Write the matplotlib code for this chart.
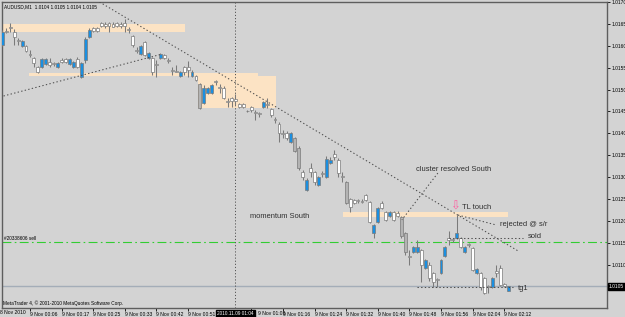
import matplotlib
matplotlib.use('Agg')
import matplotlib.pyplot as plt
import numpy as np

# ---------------- data (AUDUSD, M1) ----------------
opens = [1.01602,1.01634,1.01643,1.01631,1.01613,1.01599,1.01599,1.01581,1.01572,1.01551,
         1.01551,1.01558,1.01563,1.01561,1.01551,1.01567,1.01570,1.01558,1.01551,1.01570,
         1.01529,1.01567,1.01620,1.01641,1.01641,1.01652,1.01650,1.01652,1.01650,1.01652,
         1.01650,1.01652,1.01638,1.01622,1.01590,1.01581,1.01609,1.01572,1.01572,1.01558,
         1.01572,1.01579,1.01567,1.01545,1.01542,1.01531,1.01551,1.01551,1.01531,1.01531,
         1.01513,1.01469,1.01492,1.01492,1.01519,1.01506,1.01503,1.01474,1.01481,1.01478,
         1.01467,1.01467,1.01451,1.01460,1.01449,1.01446,1.01460,1.01467,1.01455,1.01433,
         1.01421,1.01401,1.01401,1.01380,1.01389,1.01366,1.01311,1.01270,1.01321,1.01311,
         1.01282,1.01309,1.01300,1.01332,1.01353,1.01339,1.01302,1.01289,1.01250,1.01247,
         1.01247,1.01246,1.01259,1.01243,1.01172,1.01197,1.01241,1.01220,1.01211,1.01220,
         1.01218,1.01209,1.01172,1.01119,1.01129,1.01129,1.01133,1.01092,1.01099,1.01081,
         1.01067,1.01081,1.01119,1.01161,1.01158,1.01161,1.01161,1.01129,1.01147,1.01138,
         1.01081,1.01081,1.01069,1.01051,1.01049,1.01085,1.01092,1.01055,1.01040]
highs = [1.01636,1.01641,1.01652,1.01638,1.01618,1.01613,1.01602,1.01590,1.01574,1.01554,
         1.01572,1.01572,1.01572,1.01563,1.01563,1.01572,1.01572,1.01572,1.01565,1.01574,
         1.01563,1.01620,1.01641,1.01643,1.01643,1.01654,1.01654,1.01654,1.01654,1.01654,
         1.01654,1.01661,1.01643,1.01625,1.01597,1.01602,1.01611,1.01586,1.01574,1.01567,
         1.01583,1.01581,1.01572,1.01551,1.01556,1.01542,1.01554,1.01565,1.01545,1.01533,
         1.01515,1.01510,1.01506,1.01513,1.01522,1.01513,1.01508,1.01481,1.01483,1.01490,
         1.01469,1.01469,1.01453,1.01462,1.01453,1.01449,1.01474,1.01481,1.01458,1.01437,
         1.01426,1.01407,1.01405,1.01403,1.01391,1.01371,1.01316,1.01298,1.01332,1.01314,
         1.01302,1.01314,1.01348,1.01346,1.01362,1.01343,1.01311,1.01291,1.01252,1.01250,
         1.01250,1.01250,1.01261,1.01245,1.01193,1.01231,1.01245,1.01222,1.01222,1.01222,
         1.01222,1.01211,1.01174,1.01133,1.01142,1.01156,1.01135,1.01113,1.01106,1.01083,
         1.01069,1.01113,1.01142,1.01177,1.01161,1.01213,1.01163,1.01142,1.01149,1.01140,
         1.01092,1.01083,1.01071,1.01053,1.01071,1.01099,1.01099,1.01058,1.01050]
lows = [1.01599,1.01629,1.01631,1.01602,1.01602,1.01597,1.01586,1.01574,1.01551,1.01538,
        1.01549,1.01556,1.01551,1.01554,1.01549,1.01561,1.01561,1.01556,1.01549,1.01549,
        1.01526,1.01561,1.01618,1.01631,1.01631,1.01643,1.01641,1.01631,1.01643,1.01643,
        1.01641,1.01631,1.01629,1.01597,1.01583,1.01579,1.01577,1.01570,1.01533,1.01529,
        1.01570,1.01570,1.01561,1.01533,1.01540,1.01529,1.01533,1.01529,1.01529,1.01519,
        1.01455,1.01467,1.01490,1.01490,1.01510,1.01492,1.01478,1.01460,1.01460,1.01465,
        1.01458,1.01458,1.01449,1.01449,1.01430,1.01437,1.01458,1.01458,1.01437,1.01423,
        1.01380,1.01389,1.01385,1.01378,1.01357,1.01316,1.01293,1.01268,1.01300,1.01282,
        1.01279,1.01300,1.01298,1.01330,1.01339,1.01300,1.01289,1.01238,1.01220,1.01238,
        1.01241,1.01241,1.01245,1.01195,1.01161,1.01195,1.01227,1.01199,1.01209,1.01199,
        1.01209,1.01161,1.01122,1.01099,1.01126,1.01126,1.01060,1.01090,1.01062,1.01049,
        1.01049,1.01078,1.01117,1.01145,1.01151,1.01158,1.01138,1.01126,1.01140,1.01085,
        1.01078,1.01042,1.01033,1.01035,1.01046,1.01071,1.01051,1.01049,1.01040]
closes = [1.01631,1.01631,1.01641,1.01620,1.01611,1.01611,1.01588,1.01579,1.01561,1.01540,
          1.01570,1.01570,1.01556,1.01558,1.01561,1.01563,1.01563,1.01570,1.01563,1.01551,
          1.01561,1.01615,1.01636,1.01634,1.01634,1.01645,1.01645,1.01645,1.01643,1.01645,
          1.01645,1.01645,1.01636,1.01602,1.01588,1.01599,1.01579,1.01583,1.01540,1.01556,
          1.01581,1.01572,1.01565,1.01542,1.01539,1.01540,1.01540,1.01545,1.01540,1.01522,
          1.01458,1.01503,1.01503,1.01510,1.01517,1.01503,1.01481,1.01471,1.01474,1.01474,
          1.01460,1.01460,1.01450,1.01453,1.01446,1.01444,1.01471,1.01465,1.01442,1.01430,
          1.01401,1.01398,1.01389,1.01401,1.01359,1.01321,1.01300,1.01293,1.01311,1.01289,
          1.01300,1.01307,1.01341,1.01339,1.01346,1.01309,1.01300,1.01241,1.01231,1.01241,
          1.01245,1.01244,1.01247,1.01197,1.01190,1.01229,1.01229,1.01202,1.01220,1.01202,
          1.01211,1.01165,1.01129,1.01117,1.01140,1.01140,1.01099,1.01110,1.01069,1.01060,
          1.01065,1.01110,1.01140,1.01156,1.01156,1.01172,1.01140,1.01140,1.01145,1.01087,
          1.01090,1.01049,1.01035,1.01049,1.01069,1.01081,1.01053,1.01051,1.01050]
gray_bars = [50, 74, 75, 87, 101, 102]

price_ticks = [1.0110, 1.0115, 1.0120, 1.0125, 1.0130, 1.0135, 1.0140, 1.0145,
               1.0150, 1.0155, 1.0160, 1.0165, 1.0170]
time_tick_bars = [7, 15, 23, 31, 39, 47, 63, 71, 79, 87, 95, 103, 111, 119, 127]
time_tick_labels = ['9 Nov 00:06', '9 Nov 00:17', '9 Nov 00:25', '9 Nov 00:33', '9 Nov 00:42',
                    '9 Nov 00:51', '9 Nov 01:08', '9 Nov 01:16', '9 Nov 01:24', '9 Nov 01:32',
                    '9 Nov 01:40', '9 Nov 01:48', '9 Nov 01:56', '9 Nov 02:04', '9 Nov 02:12']
first_date_label = '8 Nov 2010'
cursor_bar = 59
cursor_label = '2010.11.09 01:04'
bid_price = 1.0105
order_price = 1.01151

# ---------------- style ----------------
BG = '#d3d3d3'
BULL = '#1b8fe0'
BEAR = '#ffffff'
GRAYBODY = '#b3b3b3'
WICK = '#7a7a7a'
ZONE = '#fce3c4'
LINE = '#4d4d4d'
TXT = '#2e2e2e'
FONT = 'Liberation Sans'

W, H = 625, 317
fig = plt.figure(figsize=(W / 100, H / 100), dpi=100, facecolor=BG)
ax = fig.add_axes([2 / W, (H - 308) / H, 605 / W, 306 / H])
ax.set_facecolor(BG)
ax.set_xlim(-0.08, 153.0)
ax.set_ylim(1.0170 - 306 / 43750, 1.0170)

n = len(opens)
idx = np.arange(n)
o = np.array(opens); c = np.array(closes); hi = np.array(highs); lo = np.array(lows)

# zones (rectangles)
def zone(x0, x1, p0, p1):
    ax.fill_between([x0, x1], [p0, p0], [p1, p1], color=ZONE, lw=0, zorder=1)

zone(-1, 46.2, 1.01632, 1.01649)
zone(6.75, 64.7, 1.01530, 1.01538)
zone(49.5, 69.2, 1.01458, 1.01531)
zone(86.2, 127.9, 1.01209, 1.01220)

# horizontal price lines
ax.axhline(order_price, color='#32cd32', lw=0.8, ls=(0, (8, 3, 1.5, 3)), zorder=2)
ax.axhline(bid_price, color='#a4adb8', lw=1.0, zorder=2)
ax.axvline(cursor_bar, color='#555555', lw=0.7, ls=(0, (1.2, 2)), zorder=2)

# candles
ax.vlines(idx, lo, hi, color=WICK, lw=0.75, zorder=3)
body_lo = np.minimum(o, c)
body_h = np.maximum(np.abs(c - o), 0.000018)
cols = [GRAYBODY if i in gray_bars else (BULL if c[i] > o[i] else BEAR) for i in range(n)]
ax.bar(idx, body_h, bottom=body_lo, width=0.74, color=cols, edgecolor=WICK,
       linewidth=0.5, zorder=4)

# trend lines / pointers
dot = dict(color=LINE, lw=0.75, ls=(0, (1.3, 2.2)), zorder=5)
ax.plot([24.6, 130.5], [1.0170, 1.01131], **dot)
ax.plot([-0.58, 40.4], [1.01483, 1.01581], **dot)
ax.plot([110.2, 101.1], [1.01309, 1.01202], **dot)
ax.plot([115.3, 125.1], [1.01213, 1.01190], **dot)
ax.plot([113.0, 131.7], [1.01161, 1.01161], **dot)
ax.plot([104.9, 129.2], [1.01048, 1.01048], **dot)

# annotations
ann = dict(fontsize=5.4, color=TXT, family=FONT, va='center', ha='left', zorder=6)
ax.text(104.7, 1.01318, 'cluster resolved South', **ann)
ax.text(62.7, 1.01209, 'momentum South', **ann)
ax.text(116.3, 1.01231, 'TL touch', **ann)
ax.text(125.9, 1.01192, 'rejected @ s/r', **ann)
ax.text(133.0, 1.01163, 'sold', **ann)
ax.text(130.5, 1.01044, 'tg1', **ann)
ax.text(114.6, 1.01234, '\u21e9', fontsize=8.5, color='#ff5fa0', family='DejaVu Sans',
        ha='center', va='center', zorder=6)
ax.text(0.43, order_price + 0.00002, '#20338606 sell', fontsize=3.4, color='black',
        family=FONT, va='bottom', ha='left', zorder=6)

ax.text(0.003, 0.993, 'AUDUSD,M1  1.0104 1.0105 1.0104 1.0105', transform=ax.transAxes,
        fontsize=3.4, family=FONT, color='black', va='top', ha='left')
ax.text(0.002, 0.006, 'MetaTrader 4, \u00a9 2001-2010 MetaQuotes Software Corp.',
        transform=ax.transAxes, fontsize=3.4, family=FONT, color='black',
        va='bottom', ha='left')

# axes
for s in ax.spines.values():
    s.set_color('#5e5e5e')
    s.set_linewidth(1.0)
ax.yaxis.tick_right()
ax.set_yticks(price_ticks)
ax.set_yticklabels([f'{p:.4f}' for p in price_ticks])
ax.tick_params(axis='y', direction='out', length=2, width=0.6, pad=1, labelsize=3.5,
               colors='black')
# the label right after the cursor box is shifted so the box does not hide it
shown_labels = ['' if b == 63 else t for b, t in zip(time_tick_bars, time_tick_labels)]
ax.set_xticks(time_tick_bars)
ax.set_xticklabels(shown_labels)
ax.tick_params(axis='x', direction='out', length=2, width=0.6, pad=0.6, labelsize=3.6,
               colors='black')
for lab in ax.get_xticklabels() + ax.get_yticklabels():
    lab.set_family(FONT)
for lab in ax.get_xticklabels():
    lab.set_horizontalalignment('left')
ax.annotate(time_tick_labels[time_tick_bars.index(63)], xy=(63, 0),
            xycoords=('data', 'axes fraction'), xytext=(4.6, -2.1),
            textcoords='offset points', fontsize=3.6, family=FONT, color='black',
            va='top', ha='left')

fig.text(0.5 / W, (H - 313) / H, first_date_label, fontsize=3.6, family=FONT,
         va='center', ha='left', color='black')

# boxes
ax.annotate(f'{bid_price:.4f}', xy=(1.0, bid_price), xycoords=('axes fraction', 'data'),
            xytext=(1.5, 0), textcoords='offset points', fontsize=3.5, family=FONT,
            color='white', va='center', ha='left',
            bbox=dict(boxstyle='square,pad=0.25', fc='black', ec='black'))
ax.annotate(cursor_label, xy=(cursor_bar, 0), xycoords=('data', 'axes fraction'),
            xytext=(0, -2.2), textcoords='offset points', fontsize=3.4, family=FONT,
            color='white', va='top', ha='center',
            bbox=dict(boxstyle='square,pad=0.2', fc='black', ec='black'))

fig.savefig('out.png', dpi=100, facecolor=BG)
